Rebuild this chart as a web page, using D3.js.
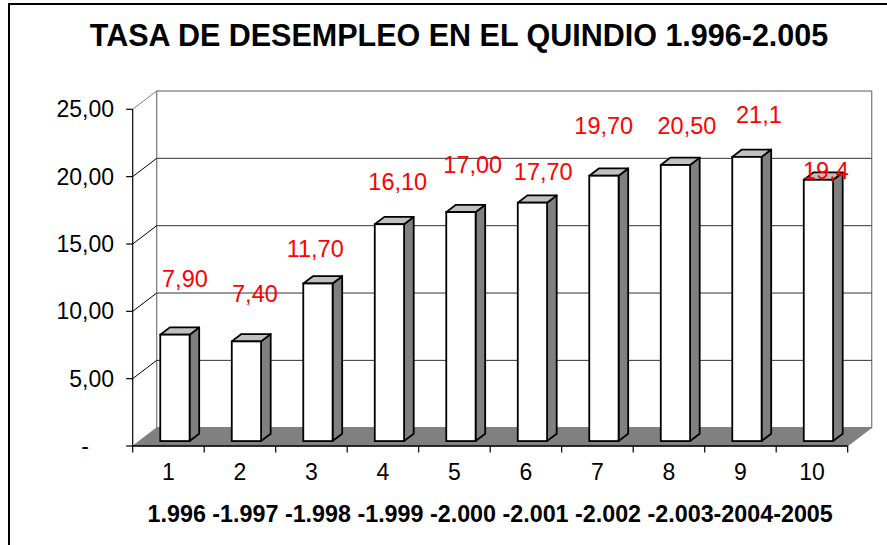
<!DOCTYPE html>
<html>
<head>
<meta charset="utf-8">
<script src="https://cdn.jsdelivr.net/npm/d3@7"></script>
<style>
  html, body { margin: 0; padding: 0; background: #fff; }
  svg { display: block; font-family: "Liberation Sans", Arial, Helvetica, sans-serif; }
</style>
</head>
<body>
<svg id="chart" width="887" height="545"></svg>
<script>
// ---------- DATA ----------
const chartTitle = "TASA DE DESEMPLEO EN EL QUINDIO 1.996-2.005";
const xAxisTitle = "1.996 -1.997 -1.998 -1.999 -2.000 -2.001 -2.002 -2.003-2004-2005";
const categories = ["1", "2", "3", "4", "5", "6", "7", "8", "9", "10"];
const values = [7.9, 7.4, 11.7, 16.1, 17.0, 17.7, 19.7, 20.5, 21.1, 19.4];
const valueLabels = ["7,90", "7,40", "11,70", "16,10", "17,00", "17,70", "19,70", "20,50", "21,1", "19,4"];
const yTicks = [0, 5, 10, 15, 20, 25];
const yTickLabels = ["-", "5,00", "10,00", "15,00", "20,00", "25,00"];

// ---------- LAYOUT ----------
const W = 887, H = 545;
const plotLeft = 132.7, plotRight = 847.7, plotBottom = 446, plotTop = 109.3;
const DX = 24, DY = -18.3;          // 3D depth offset
const f1 = 0.27, f2 = 0.67;         // bar depth range (fraction of depth)
const barFrac = 0.41;               // bar width as fraction of band
// manual label nudges relative to bar front-top centre (as in the original)
const labelNudge = [[10, -47.4], [8.5, -39.1], [-2.7, -26.8], [8.3, -34.2], [11.8, -39.4],
                    [10.8, -22.7], [-0.2, -41.7], [11.5, -31], [12, -33.6], [7.5, -0.5]];

const svg = d3.select("#chart");
svg.append("rect").attr("width", W).attr("height", H).attr("fill", "#fff");

const x = d3.scaleBand().domain(categories).range([plotLeft, plotRight]).padding(0);
const y = d3.scaleLinear().domain([0, 25]).range([plotBottom, plotTop]);
const bw = x.bandwidth();

function addText(g, tx, ty, txt, anchor, size, weight, fill) {
  return g.append("text")
    .attr("x", tx).attr("y", ty)
    .attr("text-anchor", anchor)
    .attr("font-size", size)
    .attr("font-weight", weight)
    .attr("fill", fill)
    .text(txt);
}

// outer border (top + left)
svg.append("path")
  .attr("d", `M9,${H + 2} L9,4 L${W + 2},4`)
  .attr("fill", "none").attr("stroke", "#000").attr("stroke-width", 2);

// title
addText(svg, 459, 46, chartTitle, "middle", 30.5, "bold", "#000");

// back wall
const yMax = d3.max(yTicks);
svg.append("rect")
  .attr("x", plotLeft + DX).attr("y", y(yMax) + DY)
  .attr("width", plotRight - plotLeft).attr("height", y(0) - y(yMax))
  .attr("fill", "#fff").attr("stroke", "#808080").attr("stroke-width", 1.3);

// gridlines on back wall
svg.append("g").selectAll("line")
  .data(yTicks.filter(t => t > 0 && t < yMax))
  .join("line")
  .attr("x1", plotLeft + DX).attr("x2", plotRight + DX)
  .attr("y1", d => y(d) + DY).attr("y2", d => y(d) + DY)
  .attr("stroke", "#333").attr("stroke-width", 1);

// floor
svg.append("path")
  .attr("d", `M${plotLeft},${y(0)} L${plotRight},${y(0)} L${plotRight + DX},${y(0) + DY} L${plotLeft + DX},${y(0) + DY} Z`)
  .attr("fill", "#808080").attr("stroke", "#808080").attr("stroke-width", 0.8);

// side wall diagonals
svg.append("g").selectAll("line")
  .data(yTicks.filter(t => t > 0))
  .join("line")
  .attr("x1", plotLeft).attr("y1", d => y(d))
  .attr("x2", plotLeft + DX).attr("y2", d => y(d) + DY)
  .attr("stroke", d => d === yMax ? "#808080" : "#000").attr("stroke-width", 1);

// bars
const barsG = svg.append("g");
values.forEach((v, i) => {
  const c = categories[i];
  const fw = bw * barFrac;
  const fx = x(c) + bw / 2 - fw / 2 + f1 * DX;
  const fyTop = y(v) + f1 * DY, fyBot = y(0) + f1 * DY;
  const ddx = (f2 - f1) * DX, ddy = (f2 - f1) * DY;
  const sw = 1.8;
  barsG.append("path")
    .attr("d", `M${fx + fw},${fyTop} L${fx + fw + ddx},${fyTop + ddy} L${fx + fw + ddx},${fyBot + ddy} L${fx + fw},${fyBot} Z`)
    .attr("fill", "#808080").attr("stroke", "#000").attr("stroke-width", sw).attr("stroke-linejoin", "round");
  barsG.append("path")
    .attr("d", `M${fx},${fyTop} L${fx + fw},${fyTop} L${fx + fw + ddx},${fyTop + ddy} L${fx + ddx},${fyTop + ddy} Z`)
    .attr("fill", "#c0c0c0").attr("stroke", "#000").attr("stroke-width", sw).attr("stroke-linejoin", "round");
  barsG.append("rect")
    .attr("x", fx).attr("y", fyTop).attr("width", fw).attr("height", fyBot - fyTop)
    .attr("fill", "#fff").attr("stroke", "#000").attr("stroke-width", sw);
});

// y axis (front)
const yAxisG = svg.append("g");
yAxisG.append("line")
  .attr("x1", plotLeft).attr("x2", plotLeft).attr("y1", y(yMax)).attr("y2", y(0))
  .attr("stroke", "#000").attr("stroke-width", 1.2);
yAxisG.selectAll("line.tick").data(yTicks).join("line").attr("class", "tick")
  .attr("x1", plotLeft - 6.5).attr("x2", plotLeft)
  .attr("y1", d => y(d)).attr("y2", d => y(d))
  .attr("stroke", "#000").attr("stroke-width", 1.2);
yTicks.forEach((t, i) => {
  const lbl = yTickLabels[i];
  const xEnd = lbl === "-" ? 89 : 114;
  addText(yAxisG, xEnd, y(t) + 8, lbl, "end", 23, "normal", "#000");
});

// x axis (front)
const xAxisG = svg.append("g");
xAxisG.append("line")
  .attr("x1", plotLeft).attr("x2", plotRight).attr("y1", y(0)).attr("y2", y(0))
  .attr("stroke", "#000").attr("stroke-width", 1.4);
const edges = categories.map(c => x(c)).concat([x(categories[categories.length - 1]) + bw]);
xAxisG.selectAll("line.tick").data(edges).join("line").attr("class", "tick")
  .attr("x1", d => d).attr("x2", d => d).attr("y1", y(0)).attr("y2", y(0) + 6.5)
  .attr("stroke", "#000").attr("stroke-width", 1.2);
categories.forEach(c => {
  addText(xAxisG, x(c) + bw / 2, 480, c, "middle", 23, "normal", "#000");
});

// x axis title
addText(svg, (plotLeft + plotRight) / 2, 522, xAxisTitle, "middle", 23.3, "bold", "#000");

// value labels
const labG = svg.append("g");
values.forEach((v, i) => {
  const c = categories[i];
  const cx = x(c) + bw / 2 + f1 * DX;
  const top = y(v) + f1 * DY;
  addText(labG, cx + labelNudge[i][0], top + labelNudge[i][1], valueLabels[i], "middle", 23.5, "normal", "#ff0000");
});
</script>
</body>
</html>
